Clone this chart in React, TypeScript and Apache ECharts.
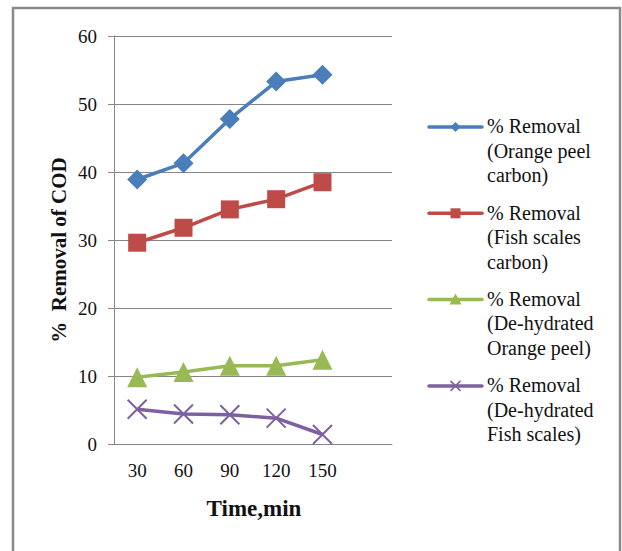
import React, { useEffect, useRef } from "react";
import * as echarts from "echarts";

const categories = ["30", "60", "90", "120", "150", ""];
const orangePeelCarbon = [38.9, 41.3, 47.8, 53.3, 54.3];
const fishScalesCarbon = [29.6, 31.8, 34.5, 36.0, 38.5];
const dehydratedOrangePeel = [9.8, 10.6, 11.5, 11.5, 12.4];
const dehydratedFishScales = [5.1, 4.4, 4.3, 3.8, 1.4];
const yTicks = [0, 10, 20, 30, 40, 50, 60];

const seriesNames = [
  "% Removal\n(Orange peel\ncarbon)",
  "% Removal\n(Fish scales\ncarbon)",
  "% Removal\n(De-hydrated\nOrange peel)",
  "% Removal\n(De-hydrated\nFish scales)",
];
const seriesColors = ["#4A7EBB", "#BE4B48", "#98B954", "#7D60A0"];
const seriesData = [orangePeelCarbon, fishScalesCarbon, dehydratedOrangePeel, dehydratedFishScales];

const crossPath = "path://M0,0L10,10M10,0L0,10";
const symbols = ["diamond", "rect", "triangle", crossPath];
const symbolSizes = [20, 18, 20, 19];

const FONT = "'Liberation Serif', 'Times New Roman', serif";

export default function App() {
  const ref = useRef<HTMLDivElement>(null);
  useEffect(() => {
    if (!ref.current) return;
    const chart = echarts.init(ref.current, undefined, { renderer: "svg" });

    const legendGraphics: any[] = [];
    const legendTop = 127;
    const legendStep = 86.3;
    seriesNames.forEach((name, i) => {
      const y = legendTop + i * legendStep;
      const c = seriesColors[i];
      const cx = 455.5;
      legendGraphics.push({
        type: "line",
        shape: { x1: 429, y1: y, x2: 482, y2: y },
        style: { stroke: c, lineWidth: 3.5, lineCap: "round" },
      });
      if (i === 0) {
        legendGraphics.push({
          type: "polygon",
          shape: { points: [[cx, y - 5], [cx + 5, y], [cx, y + 5], [cx - 5, y]] },
          style: { fill: c },
        });
      } else if (i === 1) {
        legendGraphics.push({
          type: "rect",
          shape: { x: cx - 5, y: y - 5, width: 10, height: 10 },
          style: { fill: c },
        });
      } else if (i === 2) {
        legendGraphics.push({
          type: "polygon",
          shape: { points: [[cx, y - 6], [cx + 6, y + 5], [cx - 6, y + 5]] },
          style: { fill: c },
        });
      } else {
        legendGraphics.push({
          type: "line",
          shape: { x1: cx - 5, y1: y - 5, x2: cx + 5, y2: y + 5 },
          style: { stroke: c, lineWidth: 1.5 },
        });
        legendGraphics.push({
          type: "line",
          shape: { x1: cx - 5, y1: y + 5, x2: cx + 5, y2: y - 5 },
          style: { stroke: c, lineWidth: 1.5 },
        });
      }
      legendGraphics.push({
        type: "text",
        x: 487,
        y: y - 13,
        style: {
          text: name,
          font: `20px ${FONT}`,
          lineHeight: 24.5,
          fill: "#111",
          textAlign: "left",
          textVerticalAlign: "top",
        },
      });
    });

    chart.setOption({
      animation: false,
      backgroundColor: "#fff",
      grid: { left: 114, top: 36, width: 278, height: 408, containLabel: false },
      xAxis: {
        type: "category",
        data: categories,
        boundaryGap: true,
        axisLine: { lineStyle: { color: "#868686", width: 1 } },
        axisTick: { show: false },
        axisLabel: { color: "#111", fontFamily: FONT, fontSize: 19, margin: 17 },
        splitLine: { show: false },
      },
      yAxis: {
        type: "value",
        min: yTicks[0],
        max: yTicks[yTicks.length - 1],
        interval: 10,
        axisLine: { show: true, lineStyle: { color: "#868686", width: 1 } },
        axisTick: { show: true, length: 6, lineStyle: { color: "#868686" } },
        axisLabel: { color: "#111", fontFamily: FONT, fontSize: 19, margin: 17 },
        splitLine: { show: true, lineStyle: { color: "#868686", width: 1 } },
      },
      series: seriesData.map((d, i) => ({
        name: seriesNames[i],
        type: "line",
        data: d,
        symbol: symbols[i],
        symbolSize: symbolSizes[i],
        showAllSymbol: true,
        lineStyle: { color: seriesColors[i], width: 3.5 },
        itemStyle:
          i === 3
            ? { color: seriesColors[i], borderColor: seriesColors[i], borderWidth: 2 }
            : { color: seriesColors[i], borderWidth: 0 },
        z: 2 + i,
      })),
      graphic: [
        {
          type: "rect",
          shape: { x: 13, y: 8, width: 607, height: 560 },
          style: { fill: "none", stroke: "#8a8a8a", lineWidth: 2.5 },
          silent: true,
        },
        {
          type: "text",
          x: 59,
          y: 250,
          rotation: Math.PI / 2,
          style: {
            text: "%  Removal of COD",
            font: `bold 21px ${FONT}`,
            fill: "#111",
            textAlign: "center",
            textVerticalAlign: "middle",
          },
        },
        {
          type: "text",
          x: 254,
          y: 508,
          style: {
            text: "Time,min",
            font: `bold 23px ${FONT}`,
            fill: "#111",
            textAlign: "center",
            textVerticalAlign: "middle",
          },
        },
        ...legendGraphics,
      ],
    });
    return () => chart.dispose();
  }, []);
  return (
    <div
      ref={ref}
      style={{ position: "fixed", left: 0, top: 0, width: 622, height: 551, background: "#fff" }}
    />
  );
}
